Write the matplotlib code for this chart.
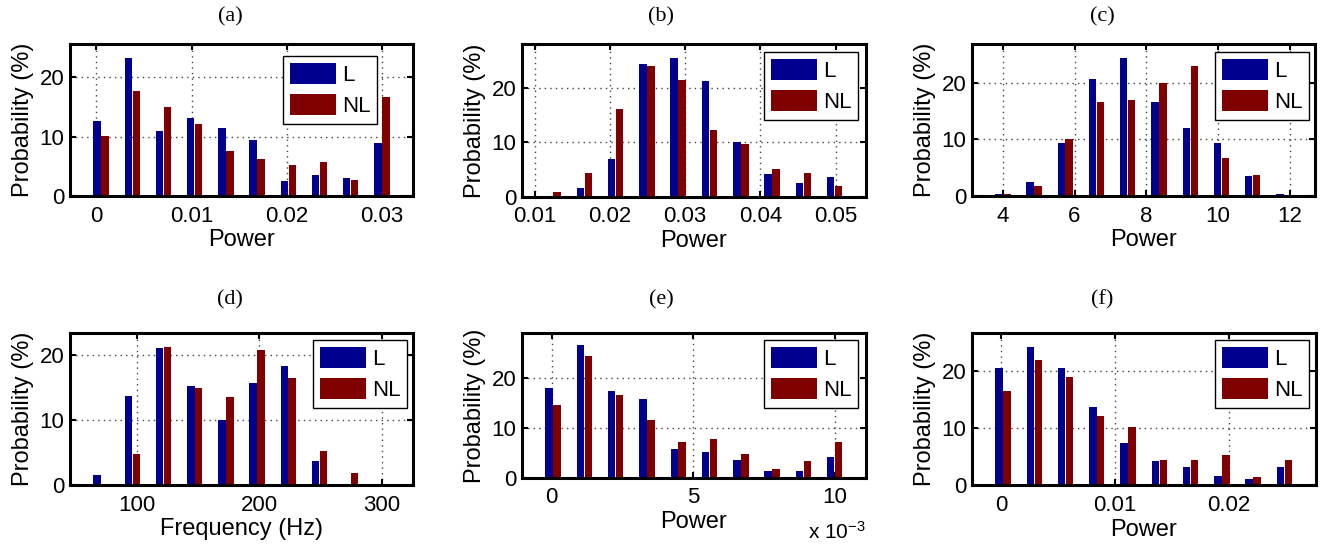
import matplotlib
matplotlib.use('Agg')
import matplotlib.pyplot as plt

plt.rcParams['font.family'] = ['Liberation Sans', 'DejaVu Sans']
plt.rcParams['mathtext.default'] = 'regular'

# (a) power histogram
a_x = [0.0005, 0.00378, 0.00706, 0.01033, 0.01361, 0.01689, 0.02017, 0.02344, 0.02672, 0.0300]
a_L = [12.7, 23.3, 11.0, 13.2, 11.5, 9.5, 2.5, 3.5, 3.0, 8.9]
a_NL = [10.1, 17.6, 15.0, 12.1, 7.5, 6.25, 5.2, 5.7, 2.65, 16.6]
a_ticks = [0, 0.01, 0.02, 0.03]
a_ticklabels = ['0', '0.01', '0.02', '0.03']

# (b)
b_x = [0.01244, 0.0166, 0.02076, 0.02492, 0.02908, 0.03324, 0.0374, 0.04156, 0.04572, 0.04988]
b_L = [0.0, 1.6, 6.9, 24.4, 25.5, 21.3, 10.0, 4.1, 2.6, 3.7]
b_NL = [0.9, 4.4, 16.1, 24.0, 21.4, 12.3, 9.7, 5.0, 4.4, 2.0]
b_ticks = [0.01, 0.02, 0.03, 0.04, 0.05]
b_ticklabels = ['0.01', '0.02', '0.03', '0.04', '0.05']

# (c)
c_x = [4.0, 4.87, 5.74, 6.61, 7.48, 8.36, 9.23, 10.10, 10.97, 11.84]
c_L = [0.3, 2.5, 9.4, 20.7, 24.4, 16.5, 12.0, 9.4, 3.5, 0.3]
c_NL = [0.3, 1.8, 10.1, 16.6, 17.0, 20.0, 23.0, 6.7, 3.7, 0.05]
c_ticks = [4, 6, 8, 10, 12]
c_ticklabels = ['4', '6', '8', '10', '12']

# (d) frequency
d_x = [70.7, 96.2, 121.7, 147.2, 172.7, 198.2, 223.7, 249.2, 274.7, 300.2]
d_L = [1.55, 13.8, 21.2, 15.3, 10.05, 15.8, 18.4, 3.7, 0.0, 0.0]
d_NL = [0.15, 4.8, 21.3, 15.0, 13.6, 20.9, 16.5, 5.25, 1.85, 0.1]
d_ticks = [100, 200, 300]
d_ticklabels = ['100', '200', '300']

# (e)
e_x = [0.00005, 0.001156, 0.002262, 0.003368, 0.004474, 0.00558, 0.006686, 0.007792, 0.008898, 0.01]
e_L = [18.05, 26.6, 17.5, 15.8, 5.8, 5.2, 3.6, 1.35, 1.35, 4.2]
e_NL = [14.6, 24.5, 16.6, 11.6, 7.2, 7.8, 4.8, 1.75, 3.35, 7.2]
e_ticks = [0, 0.005, 0.01]
e_ticklabels = ['0', '5', '10']

# (f)
f_x = [0.00015, 0.0029, 0.00564, 0.00839, 0.01114, 0.01389, 0.01664, 0.01939, 0.02213, 0.02488]
f_L = [20.5, 24.2, 20.5, 13.7, 7.4, 4.2, 3.15, 1.6, 1.05, 3.15]
f_NL = [16.5, 21.9, 18.95, 12.1, 10.2, 4.4, 4.4, 5.25, 1.4, 4.4]
f_ticks = [0, 0.01, 0.02]
f_ticklabels = ['0', '0.01', '0.02']

blue = '#00008F'
red = '#800000'
W, H = 1323, 545

fig = plt.figure(figsize=(W / 100, H / 100), dpi=100)

panels = [
    # x, L, NL, ticks, labels, ymax, xlabel, box px (l, r, top, bottom), legend anchor px (right, top), title
    (a_x, a_L, a_NL, a_ticks, a_ticklabels, 25.6, 'Power', (70, 413, 44, 196), (377, 56), '(a)', (230, 17)),
    (b_x, b_L, b_NL, b_ticks, b_ticklabels, 28.0, 'Power', (521.7, 866, 44, 196.7), (858, 52), '(b)', (661, 17)),
    (c_x, c_L, c_NL, c_ticks, c_ticklabels, 26.8, 'Power', (971.7, 1315, 44, 196), (1309, 52), '(c)', (1102, 17)),
    (d_x, d_L, d_NL, d_ticks, d_ticklabels, 23.4, 'Frequency (Hz)', (70, 413, 333.3, 485), (407, 340), '(d)', (230, 300)),
    (e_x, e_L, e_NL, e_ticks, e_ticklabels, 29.0, 'Power', (521.7, 866, 333.3, 477.7), (858, 340), '(e)', (661, 300)),
    (f_x, f_L, f_NL, f_ticks, f_ticklabels, 26.6, 'Power', (971.7, 1315.7, 333.3, 485), (1309, 340), '(f)', (1102, 300)),
]

for xs, L, NL, ticks, labels, ymax, xlab, box, leg, title, tpos in panels:
    l, r, t, b = box
    ax = fig.add_axes([l / W, 1 - b / H, (r - l) / W, (b - t) / H])
    d = xs[1] - xs[0]
    off = 0.127 * d
    w = 0.24 * d
    ax.bar([x - off for x in xs], L, width=w, color=blue, label='L', zorder=2)
    ax.bar([x + off for x in xs], NL, width=w, color=red, label='NL', zorder=2)
    ax.set_xlim(xs[0] - d, xs[-1] + d)
    ax.set_ylim(0, ymax)
    ax.set_xticks(ticks)
    ax.set_xticklabels(labels)
    ax.set_yticks([0, 10, 20])
    ax.grid(True, color='#444444', linestyle=(0, (1, 3)), linewidth=1)
    ax.set_axisbelow(True)
    ax.tick_params(direction='in', top=True, right=True, length=4, width=1.5, labelsize=16)
    ax.tick_params(axis='x', pad=7)
    ax.tick_params(axis='y', pad=4)
    for s in ax.spines.values():
        s.set_linewidth(2.2)
    ax.set_xlabel(xlab, fontsize=17, labelpad=2)
    ax.set_ylabel('Probability (%)', fontsize=17, labelpad=4)
    lx, ly = leg
    anchor = ((lx - l) / (r - l), (b - ly) / (b - t))
    lg = ax.legend(loc='upper right', bbox_to_anchor=anchor, borderaxespad=0, fontsize=16,
                   fancybox=False, framealpha=1, edgecolor='black',
                   handlelength=2.1, handleheight=1.1, handletextpad=0.25,
                   labelspacing=0.35, borderpad=0.3)
    lg.get_frame().set_linewidth(1)
    fig.text(tpos[0] / W, 1 - tpos[1] / H, title, ha='center', va='center',
             fontsize=16, family='Liberation Serif')

fig.text(866 / W, 1 - 543 / H, 'x 10$^{-3}$', ha='right', va='bottom', fontsize=15)

fig.savefig('out.png', dpi=100)
